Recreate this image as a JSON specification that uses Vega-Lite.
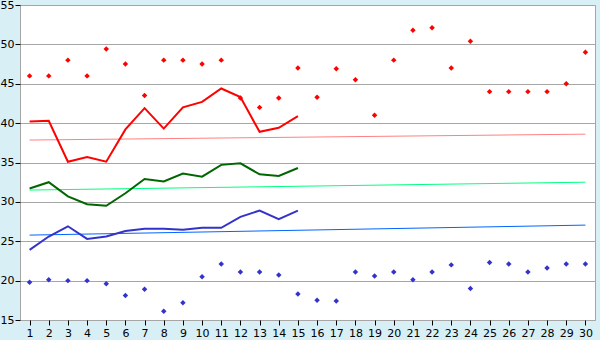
{
  "$schema": "https://vega.github.io/schema/vega-lite/v6.json",
  "autosize": "none",
  "width": 575,
  "height": 315,
  "padding": {"left": 20, "top": 5, "right": 5, "bottom": 20},
  "background": "#D9EFF6",
  "config": {
    "view": {"fill": "white", "stroke": "#A6A6A6", "strokeWidth": 1},
    "font": "DejaVu Sans",
    "axis": {"labelFont": "DejaVu Sans", "labelFontSize": 11, "labelColor": "#000000", "tickColor": "#000000", "domain": false, "title": null}
  },
  "data": {"values": [
    {"day":1,"series":"max","value":46},{"day":2,"series":"max","value":46},{"day":3,"series":"max","value":48},{"day":4,"series":"max","value":46},{"day":5,"series":"max","value":49.4},{"day":6,"series":"max","value":47.5},{"day":7,"series":"max","value":43.5},{"day":8,"series":"max","value":48},{"day":9,"series":"max","value":48},{"day":10,"series":"max","value":47.5},{"day":11,"series":"max","value":48},{"day":12,"series":"max","value":43.2},{"day":13,"series":"max","value":42},{"day":14,"series":"max","value":43.2},{"day":15,"series":"max","value":47},{"day":16,"series":"max","value":43.3},{"day":17,"series":"max","value":46.9},{"day":18,"series":"max","value":45.5},{"day":19,"series":"max","value":41},{"day":20,"series":"max","value":48},{"day":21,"series":"max","value":51.8},{"day":22,"series":"max","value":52.1},{"day":23,"series":"max","value":47},{"day":24,"series":"max","value":50.4},{"day":25,"series":"max","value":44},{"day":26,"series":"max","value":44},{"day":27,"series":"max","value":44},{"day":28,"series":"max","value":44},{"day":29,"series":"max","value":45},{"day":30,"series":"max","value":49},
    {"day":1,"series":"min","value":19.8},{"day":2,"series":"min","value":20.1},{"day":3,"series":"min","value":20},{"day":4,"series":"min","value":20},{"day":5,"series":"min","value":19.6},{"day":6,"series":"min","value":18.1},{"day":7,"series":"min","value":18.9},{"day":8,"series":"min","value":16.1},{"day":9,"series":"min","value":17.2},{"day":10,"series":"min","value":20.5},{"day":11,"series":"min","value":22.1},{"day":12,"series":"min","value":21.1},{"day":13,"series":"min","value":21.1},{"day":14,"series":"min","value":20.7},{"day":15,"series":"min","value":18.3},{"day":16,"series":"min","value":17.5},{"day":17,"series":"min","value":17.4},{"day":18,"series":"min","value":21.1},{"day":19,"series":"min","value":20.6},{"day":20,"series":"min","value":21.1},{"day":21,"series":"min","value":20.1},{"day":22,"series":"min","value":21.1},{"day":23,"series":"min","value":22},{"day":24,"series":"min","value":19},{"day":25,"series":"min","value":22.3},{"day":26,"series":"min","value":22.1},{"day":27,"series":"min","value":21.1},{"day":28,"series":"min","value":21.6},{"day":29,"series":"min","value":22.1},{"day":30,"series":"min","value":22.1},
    {"day":1,"series":"avgmax","value":40.2},{"day":2,"series":"avgmax","value":40.3},{"day":3,"series":"avgmax","value":35.1},{"day":4,"series":"avgmax","value":35.7},{"day":5,"series":"avgmax","value":35.1},{"day":6,"series":"avgmax","value":39.2},{"day":7,"series":"avgmax","value":41.9},{"day":8,"series":"avgmax","value":39.3},{"day":9,"series":"avgmax","value":42},{"day":10,"series":"avgmax","value":42.7},{"day":11,"series":"avgmax","value":44.4},{"day":12,"series":"avgmax","value":43.3},{"day":13,"series":"avgmax","value":38.9},{"day":14,"series":"avgmax","value":39.4},{"day":15,"series":"avgmax","value":40.9},
    {"day":1,"series":"avg","value":31.7},{"day":2,"series":"avg","value":32.5},{"day":3,"series":"avg","value":30.7},{"day":4,"series":"avg","value":29.7},{"day":5,"series":"avg","value":29.5},{"day":6,"series":"avg","value":31.1},{"day":7,"series":"avg","value":32.9},{"day":8,"series":"avg","value":32.6},{"day":9,"series":"avg","value":33.6},{"day":10,"series":"avg","value":33.2},{"day":11,"series":"avg","value":34.7},{"day":12,"series":"avg","value":34.9},{"day":13,"series":"avg","value":33.5},{"day":14,"series":"avg","value":33.3},{"day":15,"series":"avg","value":34.3},
    {"day":1,"series":"avgmin","value":23.9},{"day":2,"series":"avgmin","value":25.6},{"day":3,"series":"avgmin","value":26.9},{"day":4,"series":"avgmin","value":25.3},{"day":5,"series":"avgmin","value":25.6},{"day":6,"series":"avgmin","value":26.3},{"day":7,"series":"avgmin","value":26.6},{"day":8,"series":"avgmin","value":26.6},{"day":9,"series":"avgmin","value":26.45},{"day":10,"series":"avgmin","value":26.7},{"day":11,"series":"avgmin","value":26.7},{"day":12,"series":"avgmin","value":28.1},{"day":13,"series":"avgmin","value":28.9},{"day":14,"series":"avgmin","value":27.8},{"day":15,"series":"avgmin","value":28.9},
    {"day":1,"series":"tmax","value":37.85},{"day":30,"series":"tmax","value":38.6},
    {"day":1,"series":"tavg","value":31.5},{"day":30,"series":"tavg","value":32.5},
    {"day":1,"series":"tmin","value":25.78},{"day":30,"series":"tmin","value":27.05}
  ]},
  "encoding": {
    "x": {"field": "day", "type": "quantitative", "scale": {"domain": [0.5, 30.5], "nice": false, "zero": false},
          "axis": {"values": [1,2,3,4,5,6,7,8,9,10,11,12,13,14,15,16,17,18,19,20,21,22,23,24,25,26,27,28,29,30], "grid": false, "tickSize": 5, "labelPadding": 2, "labelFlush": false}},
    "y": {"field": "value", "type": "quantitative", "scale": {"domain": [15, 55], "nice": false, "zero": false},
          "axis": {"values": [15,20,25,30,35,40,45,50,55], "grid": true, "gridColor": "#A6A6A6", "gridOpacity": 1, "tickSize": 5, "labelPadding": 1, "labelFlush": false}},
    "color": {"field": "series", "type": "nominal", "legend": null,
      "scale": {"domain": ["max","min","avgmax","avg","avgmin","tmax","tavg","tmin"],
                "range": ["#FF0000","#3333CC","#FF0000","#006600","#3333CC","#FF8080","#00FF80","#0066FF"]}}
  },
  "layer": [
    {"transform": [{"filter": "indexof(['tmax','tavg','tmin'], datum.series) >= 0"}],
     "mark": {"type": "line", "strokeWidth": 1}},
    {"transform": [{"filter": "indexof(['avgmax','avg','avgmin'], datum.series) >= 0"}],
     "mark": {"type": "line", "strokeWidth": 2}},
    {"transform": [{"filter": "indexof(['max','min'], datum.series) >= 0"}],
     "mark": {"type": "point", "shape": "diamond", "filled": true, "size": 30, "opacity": 1}}
  ]
}
